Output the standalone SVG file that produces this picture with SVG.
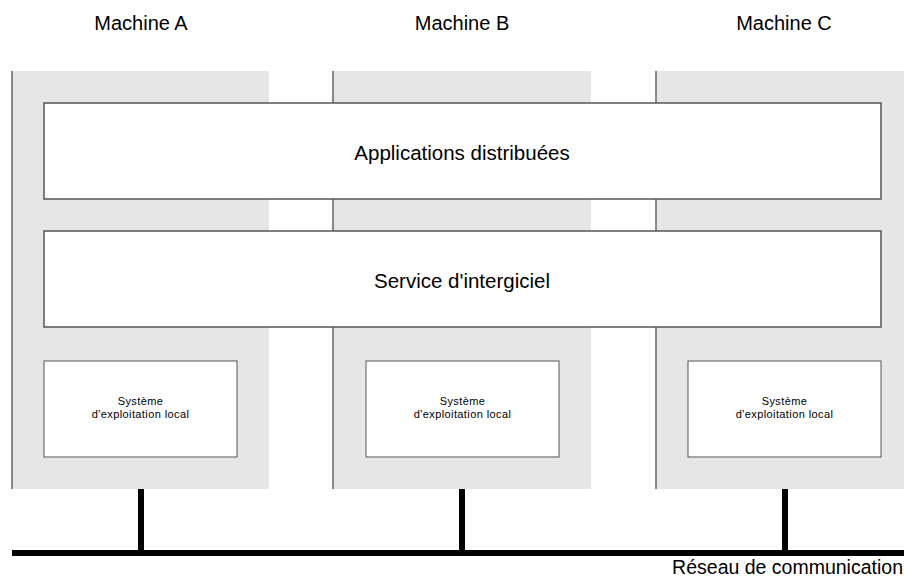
<svg xmlns="http://www.w3.org/2000/svg" width="904" height="579" viewBox="0 0 904 579">
<style>
.panel{fill:#e6e6e6}
.edge{stroke:#666;stroke-width:1.5}
.box{fill:#fff;stroke:#555;stroke-width:1.5}
.sbox{fill:#fff;stroke:#555;stroke-width:1}
.net{stroke:#000;stroke-width:6;fill:none}
text{font-family:"Liberation Sans",Arial,sans-serif;fill:#000;text-anchor:middle}
.lbl{font-size:20px}
.big{font-size:20.5px}
.small{font-size:11px;letter-spacing:0.4px}
</style>
<g id="machineA">
<rect class="panel" x="12" y="71" width="257" height="418"/>
<line class="edge" x1="12" y1="71" x2="12" y2="489"/>
<text class="lbl" x="141" y="30">Machine A</text>
</g>
<g id="machineB">
<rect class="panel" x="333" y="71" width="258" height="418"/>
<line class="edge" x1="333" y1="71" x2="333" y2="489"/>
<text class="lbl" x="462" y="30">Machine B</text>
</g>
<g id="machineC">
<rect class="panel" x="656" y="71" width="248" height="418"/>
<line class="edge" x1="656" y1="71" x2="656" y2="489"/>
<text class="lbl" x="784" y="30">Machine C</text>
</g>
<g id="apps">
<rect class="box" x="44" y="103" width="837" height="96"/>
<text class="big" x="462" y="160">Applications distribuées</text>
</g>
<g id="middleware">
<rect class="box" x="44" y="231" width="837" height="96"/>
<text class="big" x="462" y="288">Service d'intergiciel</text>
</g>
<g id="osA">
<rect class="sbox" x="44" y="361" width="193" height="96"/>
<text class="small" x="140.5" y="405">Système</text>
<text class="small" x="140.5" y="417.5">d'exploitation local</text>
</g>
<g id="osB">
<rect class="sbox" x="366" y="361" width="193" height="96"/>
<text class="small" x="462.5" y="405">Système</text>
<text class="small" x="462.5" y="417.5">d'exploitation local</text>
</g>
<g id="osC">
<rect class="sbox" x="688" y="361" width="193" height="96"/>
<text class="small" x="784.5" y="405">Système</text>
<text class="small" x="784.5" y="417.5">d'exploitation local</text>
</g>
<g id="connectors">
<line class="net" x1="12" y1="553" x2="904" y2="553"/>
<line class="net" x1="141" y1="489" x2="141" y2="553"/>
<line class="net" x1="462" y1="489" x2="462" y2="553"/>
<line class="net" x1="785" y1="489" x2="785" y2="553"/>
</g>
<g id="network">
<text class="lbl" x="903" y="574" style="text-anchor:end;font-size:19.5px">Réseau de communication</text>
</g>
</svg>
